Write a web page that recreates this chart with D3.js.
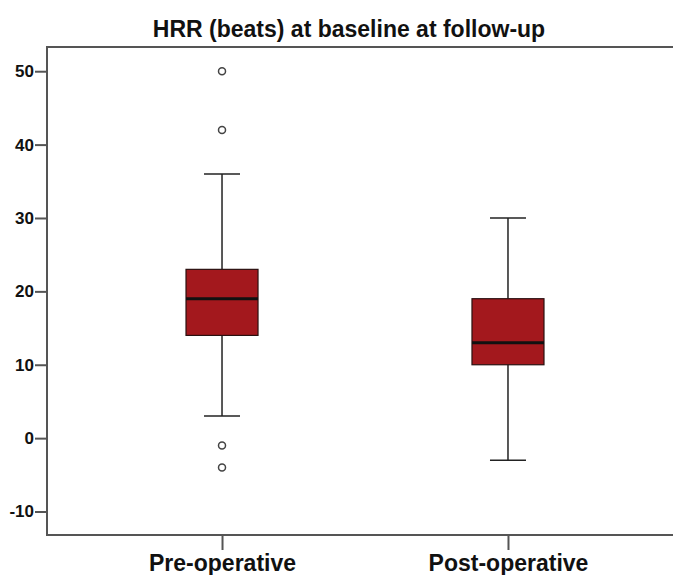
<!DOCTYPE html>
<html>
<head>
<meta charset="utf-8">
<script src="https://cdn.jsdelivr.net/npm/d3@7"></script>
<style>
  body { margin: 0; background: #fff; overflow: hidden; }
  svg { display: block; font-family: Arial, "Liberation Sans", sans-serif; }
  .tickTxt { font-size: 17px; font-weight: bold; fill: #111; }
  .catTxt { font-size: 23px; font-weight: bold; fill: #111; }
</style>
</head>
<body>
<svg width="673" height="575"></svg>
<script>
// data
var categories = ["Pre-operative", "Post-operative"];
var whiskLow  = [3, -3];
var q1        = [14, 10];
var medians   = [19, 13];
var q3        = [23, 19];
var whiskHigh = [36, 30];
var outliers  = [[50, 42, -1, -4], []];
var yTicks    = [-10, 0, 10, 20, 30, 40, 50];
var title     = "HRR (beats) at baseline at follow-up";

svg = d3.select("svg");

left = 47; top_ = 47; bottom = 535; right = 683;

x = d3.scalePoint()
		.domain(categories)
		.range([left, right])
		.padding(0.612)
;
y = d3.scaleLinear()
		.domain([-13.2, 53.3])
		.range([bottom, top_])
;
boxW = 72;
capW = 36;

// title
svg.append("text")
		.attr("x", 349)
		.attr("y", 37)
		.attr("text-anchor", "middle")
		.attr("font-size", "23px")
		.attr("font-weight", "bold")
		.attr("fill", "#111")
		.text(title)
;

// frame: right side falls outside the picture
frame = d3.line().x(function(d) { return d[0]; }).y(function(d) { return d[1]; });
svg.append("path")
		.attr("d", frame([[right, top_], [left, top_], [left, bottom], [right, bottom]]))
		.attr("fill", "none")
		.attr("stroke", "#555")
		.attr("stroke-width", 2)
;

// y axis
asisY = svg.append("g")
		.attr("transform", "translate(" + [left, 0] + ")")
		.call(d3.axisLeft(y).tickValues(yTicks).tickSize(12).tickPadding(1)
				.tickFormat(function(d) { return String(d); }))
;
asisY.select(".domain").remove();
asisY.selectAll("line").attr("stroke", "#555").attr("stroke-width", 2);
asisY.selectAll("text").attr("class", "tickTxt").attr("font-size", null).attr("font-family", null);

// x axis
asisX = svg.append("g")
		.attr("transform", "translate(" + [0, bottom] + ")")
		.call(d3.axisBottom(x).tickSize(15).tickPadding(5))
;
asisX.select(".domain").remove();
asisX.selectAll("line").attr("stroke", "#555").attr("stroke-width", 2);
asisX.selectAll("text").attr("class", "catTxt").attr("font-size", null).attr("font-family", null)
		.attr("dy", "0.71em");

// boxes
categories.forEach(function(c, i) {
	cx = x(c);
	g = svg.append("g").attr("class", "box");

	g.append("line")
			.attr("x1", cx).attr("x2", cx)
			.attr("y1", y(whiskHigh[i])).attr("y2", y(q3[i]))
			.attr("stroke", "#222").attr("stroke-width", 1.5)
	;
	g.append("line")
			.attr("x1", cx).attr("x2", cx)
			.attr("y1", y(q1[i])).attr("y2", y(whiskLow[i]))
			.attr("stroke", "#222").attr("stroke-width", 1.5)
	;
	[whiskHigh[i], whiskLow[i]].forEach(function(v) {
		g.append("line")
				.attr("x1", cx - capW / 2).attr("x2", cx + capW / 2)
				.attr("y1", y(v)).attr("y2", y(v))
				.attr("stroke", "#222").attr("stroke-width", 1.5)
		;
	});
	g.append("rect")
			.attr("x", cx - boxW / 2)
			.attr("y", y(q3[i]))
			.attr("width", boxW)
			.attr("height", y(q1[i]) - y(q3[i]))
			.attr("fill", "#a3181d")
			.attr("stroke", "#2a1010")
			.attr("stroke-width", 1.2)
	;
	g.append("line")
			.attr("x1", cx - boxW / 2).attr("x2", cx + boxW / 2)
			.attr("y1", y(medians[i])).attr("y2", y(medians[i]))
			.attr("stroke", "#111").attr("stroke-width", 3)
	;
	outliers[i].forEach(function(v) {
		g.append("circle")
				.attr("cx", cx).attr("cy", y(v))
				.attr("r", 3.5)
				.attr("fill", "#fff")
				.attr("stroke", "#444")
				.attr("stroke-width", 1.5)
		;
	});
});
</script>
</body>
</html>
